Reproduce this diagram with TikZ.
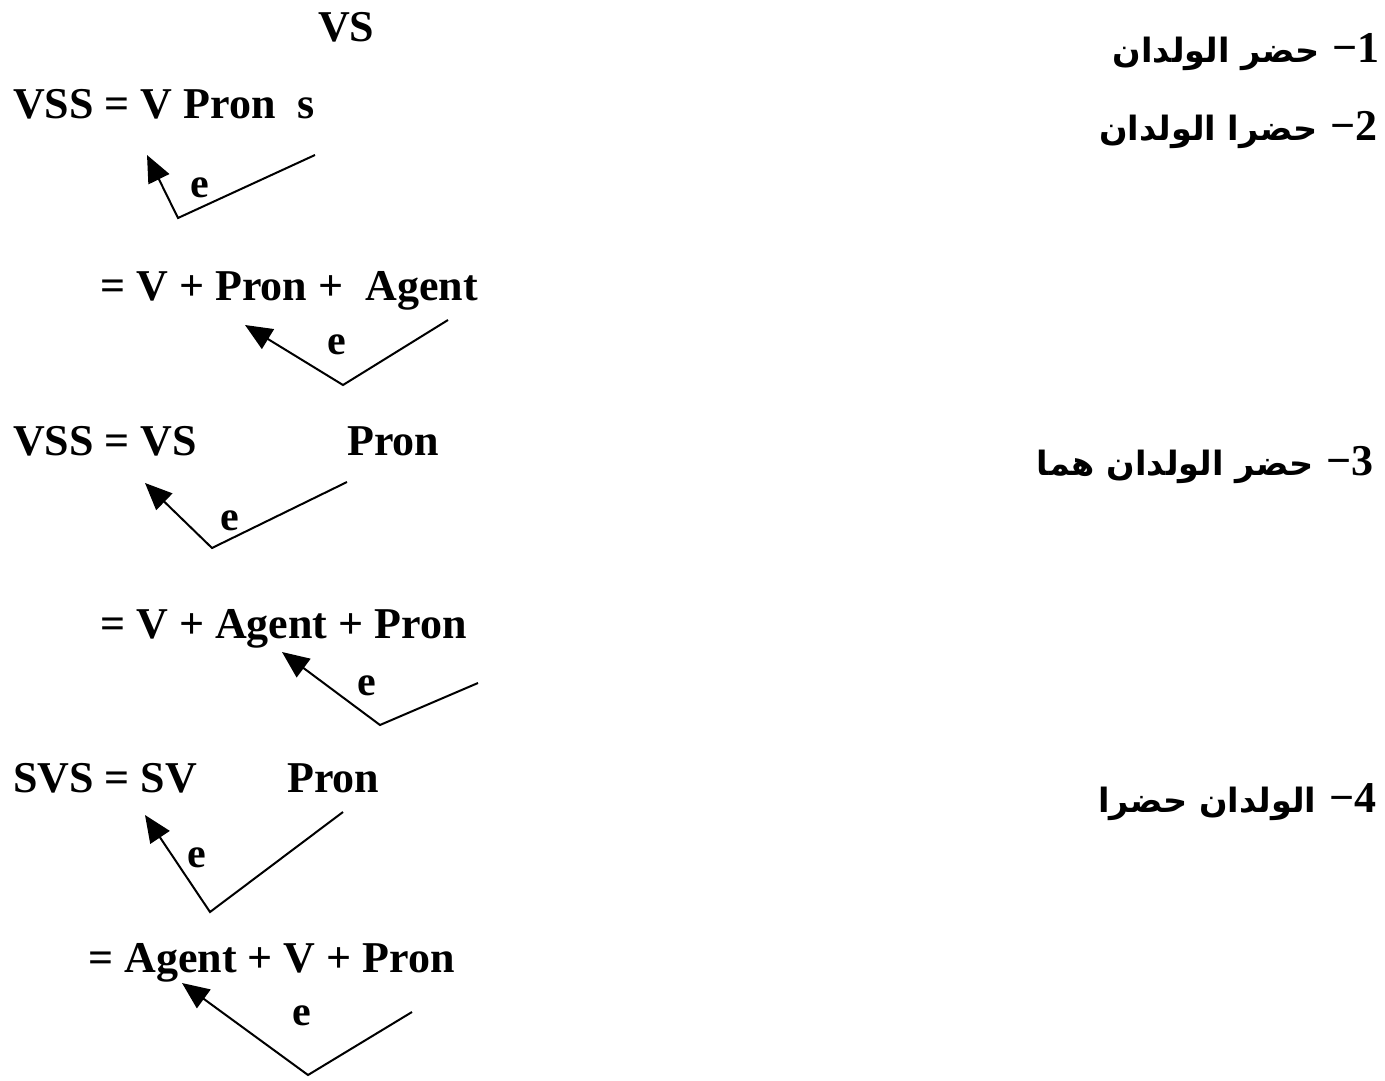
\documentclass[tikz,border=0pt]{standalone}
\usepackage{fontspec}
\setmainfont{Liberation Serif}
\newfontfamily\arabicfont[Script=Arabic]{DejaVu Sans}
\TeXXeTstate=1
\usetikzlibrary{arrows.meta}

\tikzset{
  formula/.style={anchor=base west, inner sep=0pt, font=\fontsize{44}{50}\selectfont\bfseries},
  elabel/.style={inner sep=0pt, font=\fontsize{42}{48}\selectfont\bfseries},
  numlabel/.style={anchor=base east, inner sep=0pt, font=\fontsize{44}{50}\selectfont\bfseries},
  arlabel/.style={anchor=base east, inner sep=0pt, font=\arabicfont\fontsize{33.5}{40}\selectfont\bfseries},
  move/.style={line width=2pt, -{Triangle[length=27pt,width=23pt]}},
}

\begin{document}
\begin{tikzpicture}[x=1pt,y=-1pt]
\useasboundingbox (0,0) rectangle (1385,1081);

% left column: word-order formulas
\node[formula] (title) at (318,42) {VS};
\node[formula] (f1) at (13,118) {VSS = V Pron\ \ s};
\node[formula] (f2) at (100,300) {= V + Pron +\ \ Agent};
\node[formula] (f3a) at (13,455) {VSS = VS};
\node[formula] (f3b) at (347,455) {Pron};
\node[formula] (f4) at (100,638) {= V + Agent + Pron};
\node[formula] (f5a) at (13,792) {SVS = SV};
\node[formula] (f5b) at (287,792) {Pron};
\node[formula] (f6) at (88,972) {= Agent + V + Pron};

% movement arrows: start, bend, arrow tip
\coordinate (m1s) at (315,155); \coordinate (m1v) at (178,218); \coordinate (m1t) at (147,155);
\coordinate (m2s) at (448,320); \coordinate (m2v) at (343,385); \coordinate (m2t) at (245,325);
\coordinate (m3s) at (347,482); \coordinate (m3v) at (212,548); \coordinate (m3t) at (145,483);
\coordinate (m4s) at (478,683); \coordinate (m4v) at (380,725); \coordinate (m4t) at (282,652);
\coordinate (m5s) at (343,812); \coordinate (m5v) at (210,912); \coordinate (m5t) at (145,815);
\coordinate (m6s) at (412,1012); \coordinate (m6v) at (308,1075); \coordinate (m6t) at (182,983);

\draw[move] (m1s) -- (m1v) -- (m1t);
\draw[move] (m2s) -- (m2v) -- (m2t);
\draw[move] (m3s) -- (m3v) -- (m3t);
\draw[move] (m4s) -- (m4v) -- (m4t);
\draw[move] (m5s) -- (m5v) -- (m5t);
\draw[move] (m6s) -- (m6v) -- (m6t);

\node[elabel] (e1) at (200,188) {e};
\node[elabel] (e2) at (337,345) {e};
\node[elabel] (e3) at (230,521) {e};
\node[elabel] (e4) at (367,686) {e};
\node[elabel] (e5) at (197,858) {e};
\node[elabel] (e6) at (302,1016) {e};

% right column: Arabic example sentences
\node[numlabel] (n1) at (1380,63) {−1};
\node[numlabel] (n2) at (1378,140) {−2};
\node[numlabel] (n3) at (1374,475) {−3};
\node[numlabel] (n4) at (1377,812) {−4};

\node[arlabel] (s1) at ([xshift=-13pt]n1.base west) {\beginR حضر الولدان\endR};
\node[arlabel] (s2) at ([xshift=-13pt]n2.base west) {\beginR حضرا الولدان\endR};
\node[arlabel] (s3) at ([xshift=-13pt]n3.base west) {\beginR حضر الولدان هما\endR};
\node[arlabel] (s4) at ([xshift=-13pt]n4.base west) {\beginR الولدان حضرا\endR};
\end{tikzpicture}
\end{document}
